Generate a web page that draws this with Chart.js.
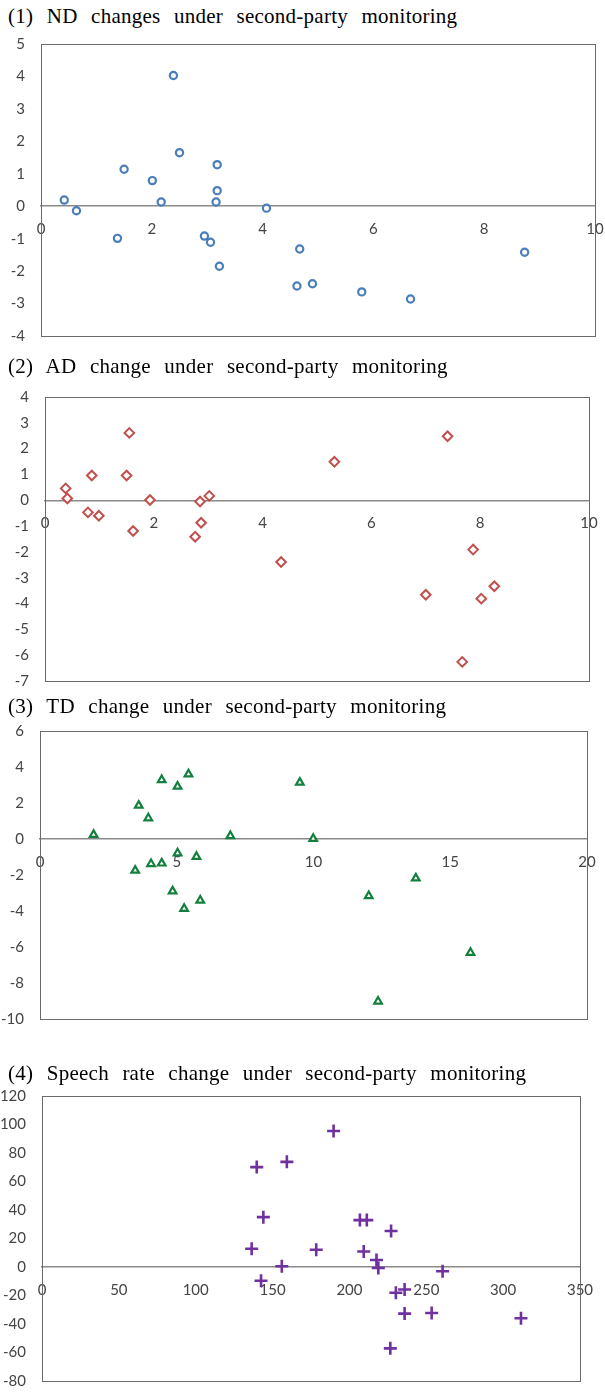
<!DOCTYPE html>
<html>
<head>
<meta charset="utf-8">
<script src="https://cdn.jsdelivr.net/npm/chart.js@4.4.1/dist/chart.umd.min.js"></script>
<style>
  body { margin: 0; background: #fff; width: 605px; height: 1392px; position: relative; overflow: hidden; }
  .title { position: absolute; left: 8px; font-family: "Liberation Serif", serif; font-size: 21px; line-height: 21px; color: #000; white-space: nowrap; word-spacing: 8px; letter-spacing: 0.25px; }
  .panel { position: absolute; left: 0; width: 640px; }
</style>
</head>
<body>
<div class="title" style="top:6px">(1) ND changes under second-party monitoring</div>
<div class="panel" style="top:14px"><canvas id="c1" width="640" height="352"></canvas></div>

<div class="title" style="top:356px">(2) AD change under second-party monitoring</div>
<div class="panel" style="top:367px"><canvas id="c2" width="640" height="344"></canvas></div>

<div class="title" style="top:696px">(3) TD change under second-party monitoring</div>
<div class="panel" style="top:701px"><canvas id="c3" width="640" height="348"></canvas></div>

<div class="title" style="top:1063px">(4) Speech rate change under second-party monitoring</div>
<div class="panel" style="top:1066px"><canvas id="c4" width="640" height="345"></canvas></div>

<script>
// (1) ND
const ndX = [0.42, 0.64, 1.50, 1.38, 2.01, 2.17, 2.39, 2.50, 3.18, 3.18, 3.16, 2.95, 3.06, 3.22, 4.07, 4.67, 4.62, 4.90, 5.79, 6.67, 8.73];
const ndY = [0.19, -0.14, 1.14, -0.99, 0.79, 0.13, 4.03, 1.65, 1.28, 0.48, 0.13, -0.92, -1.11, -1.85, -0.06, -1.32, -2.46, -2.39, -2.64, -2.86, -1.42];

// (2) AD
const adX = [0.38, 0.41, 0.86, 0.79, 0.99, 1.55, 1.50, 1.62, 1.93, 2.85, 3.02, 2.87, 2.76, 4.34, 5.32, 7.40, 7.00, 7.87, 8.02, 8.26, 7.67];
const adY = [0.46, 0.07, 0.96, -0.47, -0.60, 2.61, 0.96, -1.19, 0.01, -0.05, 0.17, -0.87, -1.41, -2.39, 1.49, 2.48, -3.66, -1.91, -3.81, -3.33, -6.26];

// (3) TD
const tdX = [1.96, 3.61, 3.96, 4.45, 5.03, 5.43, 3.48, 4.06, 4.45, 5.03, 5.72, 4.85, 5.27, 5.86, 6.96, 9.50, 9.99, 12.02, 12.36, 13.74, 15.74];
const tdY = [0.24, 1.86, 1.16, 3.28, 2.92, 3.60, -1.75, -1.38, -1.35, -0.79, -0.98, -2.90, -3.87, -3.41, 0.17, 3.14, 0.02, -3.16, -9.02, -2.18, -6.31];

// (4) speech rate
const srX = [139.7, 159.3, 189.7, 144.0, 136.4, 178.4, 156.0, 142.5, 206.8, 211.3, 227.1, 209.3, 217.6, 218.8, 260.6, 230.2, 235.9, 235.9, 253.5, 226.6, 311.6];
const srY = [70.1, 73.8, 95.4, 35.0, 12.8, 12.1, 0.5, -9.7, 32.9, 32.9, 25.3, 10.9, 4.9, -0.7, -3.0, -18.1, -15.8, -32.7, -32.3, -57.1, -36.0];

// axis ranges [min, max, step]
const ndXAxis = [0, 10, 2],   ndYAxis = [-4, 5, 1];
const adXAxis = [0, 10, 2],   adYAxis = [-7, 4, 1];
const tdXAxis = [0, 20, 5],   tdYAxis = [-10, 6, 2];
const srXAxis = [0, 350, 50], srYAxis = [-80, 120, 20];

const tickFont = { family: "Lato", size: 15 };
const tickColor = "#444";
const canvasW = 640;
const padV = 30; // room above/below the plot box inside each canvas

// box around the plot area, like the excel chart
const framePlugin = {
  id: "frame",
  beforeDatasetsDraw: (chart) => {
    const { ctx, chartArea: a } = chart;
    ctx.save();
    ctx.strokeStyle = "#6a6a6a";
    ctx.lineWidth = 1;
    ctx.strokeRect(Math.round(a.left) + 0.5, Math.round(a.top) + 0.5,
                   Math.round(a.right - a.left), Math.round(a.bottom - a.top));
    ctx.restore();
  }
};

const makeChart = (id, xs, ys, xAxis, yAxis, left, right, marker) => {
  const ctx = document.getElementById(id).getContext("2d");
  return new Chart(ctx, {
    type: "scatter",
    data: {
      datasets: [{
        data: xs.map((x, i) => ({ x: x, y: ys[i] })),
        pointStyle: marker.style,
        radius: marker.radius,
        borderWidth: marker.width,
        borderColor: marker.color,
        backgroundColor: marker.fill
      }]
    },
    options: {
      responsive: false,
      animation: false,
      layout: { padding: { top: padV, bottom: padV, left: 0, right: canvasW - right } },
      plugins: { legend: { display: false }, tooltip: { enabled: false } },
      scales: {
        x: {
          type: "linear",
          position: { y: 0 },
          min: xAxis[0], max: xAxis[1],
          ticks: { stepSize: xAxis[2], font: tickFont, color: tickColor, padding: 14, maxRotation: 0 },
          grid: { drawOnChartArea: false, drawTicks: false },
          border: { display: true, color: "#8a8a8a", width: 1.5 }
        },
        y: {
          type: "linear",
          min: yAxis[0], max: yAxis[1],
          ticks: { stepSize: yAxis[2], font: tickFont, color: tickColor, padding: 16 },
          grid: { drawOnChartArea: false, drawTicks: false },
          border: { display: false },
          afterFit: (scale) => { scale.width = left; }
        }
      }
    },
    plugins: [framePlugin]
  });
};

makeChart("c1", ndX, ndY, ndXAxis, ndYAxis, 41, 595,
  { style: "circle", radius: 3.6, width: 2.2, color: "#4a7ebb", fill: "#fff" });
makeChart("c2", adX, adY, adXAxis, adYAxis, 45, 589,
  { style: "rectRot", radius: 4.8, width: 2, color: "#c0504d", fill: "#fff" });
makeChart("c3", tdX, tdY, tdXAxis, tdYAxis, 40, 587,
  { style: "triangle", radius: 4.4, width: 2.2, color: "#13803e", fill: "#fff" });
makeChart("c4", srX, srY, srXAxis, srYAxis, 42, 580,
  { style: "cross", radius: 6.5, width: 2.6, color: "#7030a0", fill: "#7030a0" });
</script>
</body>
</html>
